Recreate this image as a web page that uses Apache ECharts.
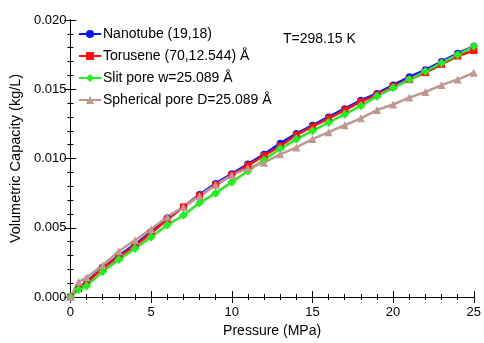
<!DOCTYPE html>
<html><head><meta charset="utf-8">
<script src="https://cdn.jsdelivr.net/npm/echarts@6/dist/echarts.min.js"></script>
<style>html,body{margin:0;padding:0;background:#fff}#c{width:484px;height:343px}</style>
</head><body><div id="c"></div>
<script>
const pressure = [0, 0.5, 1, 2, 3, 4, 5, 6, 7, 8, 9, 10, 11, 12, 13, 14, 15, 16, 17, 18, 19, 20, 21, 22, 23, 24, 25];
const nanotube = [0, 0.00065, 0.0011, 0.0021, 0.0030, 0.0038, 0.0047, 0.0057, 0.0065, 0.0074, 0.0082, 0.0089, 0.0096, 0.0103, 0.0111, 0.0118, 0.0124, 0.0130, 0.0136, 0.0142, 0.0147, 0.0153, 0.0159, 0.0164, 0.0170, 0.0176, 0.0181];
const torusene = [0, 0.0006, 0.0010, 0.0021, 0.0029, 0.0037, 0.0046, 0.0056, 0.0065, 0.0073, 0.0081, 0.0088, 0.0095, 0.0102, 0.0109, 0.0117, 0.0123, 0.0129, 0.0135, 0.0141, 0.0146, 0.0152, 0.0157, 0.0162, 0.0168, 0.0174, 0.0178];
const slitPore = [0, 0.00055, 0.0008, 0.00185, 0.0027, 0.0035, 0.00434, 0.0052, 0.0059, 0.0068, 0.0075, 0.0083, 0.0091, 0.0099, 0.0107, 0.0114, 0.0120, 0.0126, 0.0132, 0.0138, 0.0145, 0.0151, 0.0157, 0.0163, 0.0169, 0.0175, 0.0181];
const sphericalPore = [0, 0.0011, 0.0014, 0.0023, 0.0033, 0.0041, 0.0049, 0.0058, 0.0065, 0.0073, 0.0081, 0.0088, 0.0093, 0.0097, 0.0103, 0.0108, 0.0114, 0.0119, 0.0124, 0.0129, 0.0135, 0.0139, 0.0144, 0.0148, 0.0153, 0.0157, 0.0162];
const seriesNames = ['Nanotube (19,18)', 'Torusene (70,12.544) Å', 'Slit pore w=25.089 Å', 'Spherical pore D=25.089 Å'];
const xTicks = [0, 5, 10, 15, 20, 25];
const yTicks = [0, 0.005, 0.010, 0.015, 0.020];

const FONT = 'Liberation Sans, Arial, Helvetica, sans-serif';
function pairs(ys){ return pressure.map((p,i)=>[p, ys[i]]); }
const axisBase = {
  axisLine:{show:true, lineStyle:{color:'#000', width:1}},
  axisTick:{show:true, inside:true, length:6, lineStyle:{color:'#000'}},
  minorTick:{show:true, splitNumber:5, length:3, lineStyle:{color:'#000'}},
  splitLine:{show:false}
};
const chart = echarts.init(document.getElementById('c'));
const mk = (name, data, color, symbol, size) => ({
  name, type:'line', data: pairs(data), symbol, symbolSize:size,
  lineStyle:{color, width:2.5}, itemStyle:{color}, animation:false
});
chart.setOption({
  animation:false,
  grid:{left:69, right:7, top:20, bottom:42},
  legend:{
    left:78, top:27, padding:0, orient:'vertical', itemGap:8, itemWidth:22, itemHeight:10,
    textStyle:{fontFamily:FONT, fontSize:14, color:'#000', padding:[0,0,0,-3]},
    data: seriesNames
  },
  xAxis:[
    Object.assign({type:'value', min:xTicks[0], max:xTicks[xTicks.length-1], interval:5, position:'bottom',
      name:'Pressure (MPa)', nameLocation:'middle', nameGap:27,
      nameTextStyle:{fontFamily:FONT, fontSize:14, color:'#000'},
      axisLabel:{fontFamily:FONT, fontSize:13, color:'#000', margin:9}}, axisBase),
    Object.assign({type:'value', min:0, max:25, interval:5, position:'top', axisLabel:{show:false}}, axisBase)
  ],
  yAxis:[
    Object.assign({type:'value', min:yTicks[0], max:yTicks[yTicks.length-1], interval:0.005, position:'left',
      name:'Volumetric Capacity (kg/L)', nameLocation:'middle', nameGap:42,
      nameTextStyle:{fontFamily:FONT, fontSize:14.5, color:'#000'},
      axisLabel:{fontFamily:FONT, fontSize:13, color:'#000', margin:4, formatter:v=>v.toFixed(3)}}, axisBase),
    Object.assign({type:'value', min:0, max:0.020, interval:0.005, position:'right', axisLabel:{show:false}}, axisBase)
  ],
  graphic:[{type:'text', left:283, top:32, style:{text:'T=298.15 K', font:'14px '+FONT, fill:'#000'}}],
  series:[
    mk(seriesNames[0], nanotube, '#0a14ff', 'circle', 7),
    mk(seriesNames[1], torusene, '#ff1010', 'rect', 7),
    mk(seriesNames[2], slitPore, '#22ee22', 'diamond', 9),
    mk(seriesNames[3], sphericalPore, '#bf9891', 'triangle', 8)
  ]
});
</script></body></html>
